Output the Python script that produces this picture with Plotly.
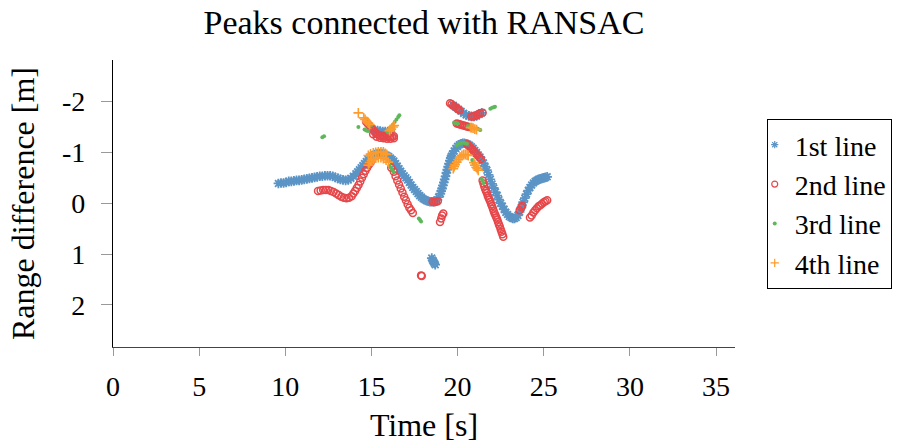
import plotly.graph_objects as go

# ---- peaks assigned to each RANSAC line: time [s], range difference [m] ----
line1_t = [9.6, 9.75, 9.9, 10.05, 10.2, 10.35, 10.5, 10.65, 10.8, 10.95, 11.1, 11.25, 11.4, 11.55,
           11.7, 11.85, 12.0, 12.15, 12.3, 12.45, 12.6, 12.75, 12.9, 13.05, 13.2, 13.35, 13.5, 13.65,
           13.8, 13.95, 14.1, 14.2, 14.3, 14.4, 14.5, 14.6, 14.7, 14.8, 14.9, 15.0, 15.1, 15.2, 15.3,
           15.4, 15.5, 15.6, 15.7, 15.8, 15.9, 16.0, 16.1, 16.2, 16.3, 16.4, 16.5, 16.6, 16.7, 16.8,
           16.9, 17.0, 17.1, 17.2, 17.3, 17.4, 17.5, 17.6, 17.7, 17.8, 17.9, 18.0, 18.1, 18.2, 18.3,
           18.4, 18.5, 18.6, 18.7, 18.8, 18.9, 19.0, 19.05, 19.1, 19.15, 19.2, 19.25, 19.3, 19.35,
           19.4, 19.45, 19.5, 19.55, 19.6, 19.65, 19.7, 19.8, 19.9, 20.0, 20.1, 20.2, 20.3, 20.4,
           20.5, 20.6, 20.7, 20.8, 20.9, 21.0, 21.1, 21.2, 21.3, 21.4, 21.5, 21.6, 21.7, 21.8, 21.9,
           22.0, 22.1, 22.2, 22.3, 22.4, 22.5, 22.6, 22.7, 22.8, 22.9, 23.0, 23.1, 23.2, 23.3, 23.4,
           23.5, 23.6, 23.7, 23.8, 23.9, 24.0, 24.1, 24.2, 24.3, 24.4, 24.5, 24.6, 24.7, 24.8, 24.9,
           25.0, 25.1, 25.2,
           15.2, 15.35, 15.5, 15.65, 15.8, 15.95, 16.1,
           19.75, 19.9, 20.05, 20.2, 20.35, 20.5, 20.65, 20.8, 20.95, 21.1, 21.25, 21.4,
           18.5, 18.55, 18.6, 18.65, 18.7]
line1_r = [-0.39, -0.40, -0.40, -0.41, -0.43, -0.43, -0.44, -0.45, -0.45, -0.46, -0.47, -0.48, -0.49,
           -0.50, -0.51, -0.52, -0.53, -0.53, -0.54, -0.54, -0.54, -0.53, -0.51, -0.49, -0.47, -0.46,
           -0.45, -0.46, -0.49, -0.53, -0.58, -0.62, -0.66, -0.70, -0.74, -0.78, -0.82, -0.86, -0.89,
           -0.92, -0.94, -0.96, -0.97, -0.98, -0.98, -0.98, -0.97, -0.95, -0.94, -0.92, -0.89, -0.86,
           -0.83, -0.78, -0.73, -0.68, -0.63, -0.58, -0.54, -0.50, -0.46, -0.41, -0.36, -0.31, -0.27,
           -0.23, -0.19, -0.15, -0.12, -0.09, -0.07, -0.05, -0.04, -0.03, -0.03, -0.03, -0.04, -0.07,
           -0.12, -0.19, -0.24, -0.29, -0.35, -0.41, -0.47, -0.53, -0.60, -0.66, -0.72, -0.78, -0.84,
           -0.89, -0.93, -0.97, -1.03, -1.08, -1.12, -1.15, -1.17, -1.18, -1.18, -1.17, -1.16, -1.14,
           -1.11, -1.08, -1.04, -1.00, -0.95, -0.91, -0.85, -0.79, -0.72, -0.65, -0.56, -0.47, -0.38,
           -0.30, -0.22, -0.15, -0.07, 0.00, 0.06, 0.12, 0.18, 0.22, 0.26, 0.28, 0.30, 0.30, 0.28,
           0.24, 0.17, 0.08, -0.02, -0.10, -0.18, -0.25, -0.31, -0.36, -0.40, -0.43, -0.45, -0.47,
           -0.48, -0.49, -0.50, -0.51, -0.52,
           -1.44, -1.43, -1.42, -1.41, -1.41, -1.41, -1.42,
           -1.93, -1.89, -1.85, -1.81, -1.77, -1.74, -1.72, -1.71, -1.71, -1.72, -1.75, -1.78,
           1.08, 1.12, 1.15, 1.18, 1.21]

line2_t = [11.9, 12.05, 12.2, 12.35, 12.5, 12.65, 12.8, 12.95, 13.1, 13.25, 13.4, 13.55, 13.7, 13.85,
           13.95, 14.05, 14.15, 14.25, 14.35, 14.45, 14.55, 14.65, 14.75, 14.85, 14.95,
           16.15, 16.3, 16.4, 16.5, 16.6, 16.7, 16.8, 16.9, 17.0, 17.1, 17.2, 17.3, 17.4,
           14.7, 14.8, 14.9, 15.0, 15.1, 15.2, 15.3, 15.4, 15.5, 15.6, 15.7, 15.8, 15.9, 16.0, 16.1,
           16.2, 16.3, 15.1, 15.3, 15.5, 15.7, 15.9, 16.1, 16.3,
           18.55, 18.65, 18.75, 18.85, 18.98, 19.05, 19.1, 19.17, 17.88, 17.92,
           19.56, 19.65, 19.75, 19.85, 19.95, 20.04, 20.12, 20.8, 20.9, 21.0, 21.1, 21.2, 21.3, 21.45,
           19.95, 20.05, 20.15, 20.25, 20.35, 20.45, 20.55, 20.65,
           20.55, 20.65, 20.75, 20.85, 20.95, 21.05, 21.15, 21.25, 21.35,
           21.45, 21.5, 21.55, 21.6, 21.65, 21.7, 21.75, 21.8, 21.85, 21.9, 21.95, 22.0, 22.05, 22.1,
           22.15, 22.2, 22.25, 22.3, 22.35, 22.4, 22.45, 22.5, 22.55, 22.6, 22.65,
           23.6, 23.7, 23.75,
           24.2, 24.3, 24.4, 24.5, 24.6, 24.7, 24.8, 24.9, 25.0, 25.1, 25.2]
line2_r = [-0.24, -0.25, -0.26, -0.26, -0.26, -0.24, -0.22, -0.19, -0.16, -0.13, -0.11, -0.10, -0.11,
           -0.14, -0.19, -0.24, -0.30, -0.36, -0.43, -0.50, -0.57, -0.64, -0.70, -0.76, -0.80,
           -0.70, -0.62, -0.53, -0.45, -0.37, -0.29, -0.21, -0.13, -0.06, 0.02, 0.09, 0.14, 0.19,
           -1.60, -1.56, -1.52, -1.48, -1.44, -1.40, -1.37, -1.35, -1.34, -1.33, -1.32, -1.32, -1.31,
           -1.31, -1.31, -1.31, -1.32, -1.36, -1.31, -1.29, -1.28, -1.27, -1.27, -1.28,
           -0.03, -0.02, -0.03, -0.04, 0.37, 0.30, 0.24, 0.20, 1.42, 1.43,
           -1.97, -1.95, -1.92, -1.90, -1.87, -1.85, -1.83, -1.71, -1.71, -1.72, -1.73, -1.75, -1.77,
           -1.78,
           -1.57, -1.56, -1.55, -1.54, -1.53, -1.52, -1.51, -1.50,
           -1.16, -1.13, -1.09, -1.06, -1.02, -0.98, -0.95, -0.91, -0.87,
           -0.45, -0.39, -0.33, -0.28, -0.24, -0.20, -0.15, -0.11, -0.07, -0.03, 0.02, 0.06, 0.11,
           0.16, 0.20, 0.24, 0.28, 0.32, 0.37, 0.42, 0.46, 0.51, 0.56, 0.61, 0.66,
           0.14, 0.08, 0.05,
           0.28, 0.24, 0.18, 0.14, 0.10, 0.06, 0.04, 0.01, -0.02, -0.04, -0.06]

line3_t = [12.15, 12.25, 14.24, 14.6, 14.7, 14.8, 15.0,
           15.95, 16.05, 16.15, 16.25, 16.35, 16.45, 16.55, 16.62,
           14.85, 14.95, 15.3, 15.5, 15.75, 15.85, 16.05, 16.12, 16.2, 16.27,
           17.75, 17.82, 17.88,
           19.8, 19.9, 20.0, 20.6, 20.7, 21.15, 21.25, 21.32,
           21.9, 22.0, 22.1, 22.17,
           19.95, 20.05, 20.15, 20.25, 20.35, 20.45, 20.55,
           20.85, 20.9, 20.95, 21.4, 21.45, 21.5]
line3_r = [-1.30, -1.32, -1.50, -1.45, -1.43, -1.42, -1.54,
           -1.40, -1.45, -1.50, -1.55, -1.60, -1.65, -1.70, -1.73,
           -0.92, -0.95, -1.00, -1.01, -0.99, -0.96, -0.74, -0.70, -0.66, -0.62,
           0.30, 0.33, 0.36,
           -1.59, -1.58, -1.57, -1.52, -1.51, -1.47, -1.45, -1.44,
           -1.86, -1.88, -1.89, -1.90,
           -1.14, -1.16, -1.18, -1.19, -1.19, -1.18, -1.17,
           -0.85, -0.81, -0.78, -0.48, -0.44, -0.40]

line4_t = [14.24, 14.55, 14.63, 14.72, 14.82, 14.9, 16.05, 16.15, 16.25, 16.32,
           14.82, 14.95, 15.11, 15.25, 15.4, 15.55, 15.69, 15.8, 15.88,
           14.82, 14.9, 15.0, 15.11, 15.25, 15.4, 15.55, 15.69, 15.85, 15.98,
           20.75, 20.82, 20.9, 21.0, 21.1,
           19.75, 19.8, 19.85, 19.95, 20.05, 20.14, 20.25, 20.35, 20.45, 20.55, 20.62,
           20.95, 21.01, 21.08, 21.14, 21.2]
line4_r = [-1.78, -1.68, -1.65, -1.61, -1.58, -1.55, -1.43, -1.46, -1.50, -1.53,
           -0.94, -0.97, -0.99, -1.00, -1.01, -1.01, -1.01, -0.98, -0.96,
           -0.75, -0.80, -0.84, -0.86, -0.89, -0.90, -0.90, -0.88, -0.85, -0.81,
           -1.49, -1.49, -1.48, -1.46, -1.45,
           -0.68, -0.72, -0.76, -0.81, -0.86, -0.91, -0.94, -0.96, -0.96, -0.95, -0.94,
           -0.80, -0.75, -0.71, -0.68, -0.65]

series_names = ["1st line", "2nd line", "3rd line", "4th line"]
x_ticks = [0, 5, 10, 15, 20, 25, 30, 35]
y_ticks = [-2, -1, 0, 1, 2]
y_tick_text = ["-2", "-1", "0", "1", "2"]

FONT = "Liberation Serif, serif"
BLUE, RED, GREEN, ORANGE = "#5b94c5", "#e6474a", "#5eb85b", "#fd9b2d"

# marker style per line: (symbol, size on the plot, size in the legend, colour, stroke width)
styles = [
    ("asterisk-open", 8, 6, BLUE, 1.8),
    ("circle-open", 7, 6, RED, 1.5),
    ("circle", 4, 4, GREEN, 0),
    ("cross-thin-open", 7, 6, ORANGE, 1.6),
]
data = [(line1_t, line1_r), (line2_t, line2_r), (line3_t, line3_r), (line4_t, line4_r)]

fig = go.Figure()
for name, (t, r), (sym, size, lsize, col, lw) in zip(series_names, data, styles):
    fig.add_trace(go.Scatter(
        x=t, y=r, mode="markers", name=name, legendgroup=name, showlegend=False,
        marker=dict(symbol=sym, size=size, color=col, line=dict(color=col, width=lw))))
for name, (sym, size, lsize, col, lw) in zip(series_names, styles):
    # legend entry with the smaller key marker
    fig.add_trace(go.Scatter(
        x=[None], y=[None], mode="markers", name=name, legendgroup=name,
        marker=dict(symbol=sym, size=lsize, color=col, line=dict(color=col, width=min(lw, 1.2)))))

fig.update_layout(
    width=903, height=443,
    margin=dict(l=113, r=168, t=60, b=96, autoexpand=False),
    paper_bgcolor="white", plot_bgcolor="white",
    font=dict(family=FONT, size=28, color="black"),
    title=dict(text="Peaks connected with RANSAC", x=0.5, xref="paper", xanchor="center",
               y=1 - 22 / 443, yref="container", yanchor="middle",
               font=dict(size=34)),
    showlegend=True,
    legend=dict(x=1.051, xanchor="left", y=0.7944, yanchor="top",
                bordercolor="black", borderwidth=1, bgcolor="white",
                font=dict(size=28), tracegroupgap=0, indentation=-13),
)
fig.update_xaxes(
    range=[0, 36.1], tickvals=x_ticks, ticks="outside", ticklen=8, tickcolor="#999",
    tickwidth=1, showline=True, linecolor="#444", linewidth=1.3, showgrid=False,
    zeroline=False, ticklabelstandoff=6,
    title=dict(text="Time [s]", standoff=16, font=dict(size=32)))
fig.update_yaxes(
    range=[2.83, -2.82], tickvals=y_ticks, ticktext=y_tick_text, ticks="outside",
    ticklen=11, tickcolor="#999", tickwidth=1, showline=True, linecolor="black",
    linewidth=1.3, showgrid=False, zeroline=False, ticklabelstandoff=10,
    title=dict(text="Range difference [m]", standoff=17, font=dict(size=32)))

fig.write_html("out.html")
